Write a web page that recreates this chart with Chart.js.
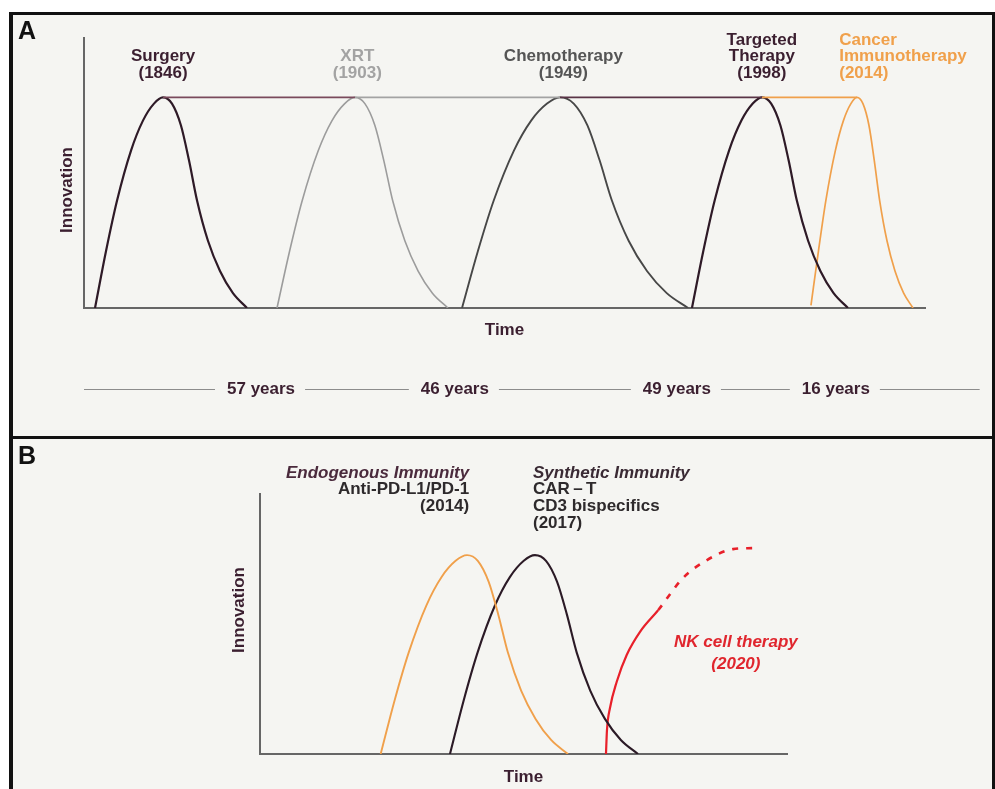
<!DOCTYPE html>
<html>
<head>
<meta charset="utf-8">
<script src="https://cdn.jsdelivr.net/npm/chart.js@4.4.0/dist/chart.umd.min.js"></script>
<style>
  html, body { margin: 0; padding: 0; background: #fff; }
  #page { position: relative; width: 995px; height: 789px; overflow: hidden; }
  #frame { position: absolute; left: 9px; top: 12px; width: 986px; height: 800px; box-sizing: border-box;
           border: 3px solid #111; border-left-width: 4px; background: #f5f5f2; }
  #divider { position: absolute; left: 9px; top: 436px; width: 986px; height: 3px; background: #111; }
  canvas { position: absolute; left: 0; }
  #chartA { top: 0; }
  #chartB { top: 436px; }
</style>
</head>
<body>
<div id="page">
  <div id="frame"></div>
  <div id="divider"></div>
  <canvas id="chartA" width="995" height="436"></canvas>
  <canvas id="chartB" width="995" height="353"></canvas>
</div>
<script>
// ---- Panel A: waves of cancer therapy (x = time, y = innovation, arbitrary units)
var surgeryX  = [1.31, 2.62, 3.93, 5.59, 7.01, 8.32, 9.39, 10.46, 11.53, 12.49, 13.44, 14.74, 16.17, 17.71, 19.38];
var surgeryY  = [0, 21.1, 39.8, 58.3, 69.4, 75.7, 78, 75.7, 67.6, 54.6, 39.8, 24.9, 13.7, 5.5, 0];
var xrtX      = [22.95, 24.45, 25.95, 27.86, 29.49, 31.0, 32.22, 33.40, 34.59, 35.65, 36.70, 38.15, 39.73, 41.43, 43.28];
var xrtY      = [0, 21.1, 39.8, 58.3, 69.4, 75.7, 78, 75.7, 67.6, 54.6, 39.8, 24.9, 13.7, 5.5, 0];
var chemoX    = [44.95, 46.84, 48.72, 51.12, 53.17, 55.06, 56.60, 58.23, 59.86, 61.32, 62.77, 64.76, 66.94, 69.29, 71.83];
var chemoY    = [0, 21.1, 39.8, 58.3, 69.4, 75.7, 78, 75.7, 67.6, 54.6, 39.8, 24.9, 13.7, 5.5, 0];
var targetedX = [72.29, 73.64, 74.99, 76.70, 78.17, 79.52, 80.62, 81.71, 82.81, 83.79, 84.76, 86.10, 87.56, 89.13, 90.84];
var targetedY = [0, 21.1, 39.8, 58.3, 69.4, 75.7, 78, 75.7, 67.6, 54.6, 39.8, 24.9, 13.7, 5.5, 0];
var immunoX   = [86.44, 87.33, 88.21, 89.34, 90.30, 91.19, 91.91, 92.62, 93.34, 93.97, 94.61, 95.48, 96.43, 97.46, 98.57];
var immunoY   = [1, 21.1, 39.8, 58.3, 69.4, 75.7, 78, 75.7, 67.6, 54.6, 39.8, 24.9, 13.7, 5.5, 0];
var peakX     = [9.39, 32.22, 56.60, 80.62, 91.91];
var peakY     = [78, 78, 78, 78, 78];

var therapyNames  = [['Surgery'], ['XRT'], ['Chemotherapy'], ['Targeted', 'Therapy'], ['Cancer', 'Immunotherapy']];
var therapyYears  = ['(1846)', '(1903)', '(1949)', '(1998)', '(2014)'];
var therapyLabelX = [9.4, 32.5, 57.0, 80.6, 89.8];
var therapyAlign  = ['center', 'center', 'center', 'center', 'left'];
var therapyColors = ['#3b1f30', '#a3a3a3', '#555555', '#3b1f30', '#f0a04b'];
var peakColors    = ['#7a4a5c', '#a3a3a3', '#5a3446', '#f0a04b'];

var gapText = ['57 years', '46 years', '49 years', '16 years'];
var gapX    = [21.05, 44.1, 70.5, 89.4];
var timelineRange = [0, 106.5];

// ---- Panel B: immunotherapy waves
var pd1X = [22.9, 25.55, 28.21, 31.58, 34.46, 37.12, 39.28, 41.33, 43.38, 45.22, 47.04, 49.55, 52.29, 55.24, 58.44];
var pd1Y = [0, 20.7, 39.0, 57.2, 68.1, 74.3, 76.5, 74.3, 66.3, 53.6, 39.0, 24.4, 13.5, 5.4, 0];
var carX = [36.05, 38.66, 41.28, 44.60, 47.44, 50.05, 52.18, 54.27, 56.36, 58.24, 60.10, 62.66, 65.45, 68.47, 71.73];
var carY = [0, 20.7, 39.0, 57.2, 68.1, 74.3, 76.5, 74.3, 66.3, 53.6, 39.0, 24.4, 13.5, 5.4, 0];
var nkX  = [65.65, 65.84, 66.41, 67.69, 69.58, 72.11, 75.58, 80.27, 84.82, 89.75, 93.55];
var nkY  = [0, 9.2, 17.7, 27.8, 38.1, 47.0, 55.4, 67.7, 74.6, 78.8, 79.2];
var nkDashFrom = 6;   // projected part of the NK curve is dashed

var FONT = '"Liberation Sans", Arial, sans-serif';
var PLUM = '#3b1f30';

function pts(xs, ys) {
  return xs.map(function(x, i) { return {x: x, y: ys[i]}; });
}

function curve(xs, ys, color, width) {
  return { data: pts(xs, ys), borderColor: color, borderWidth: width, fill: false };
}

function axisOptions(color) {
  return {
    type: 'linear', min: 0, max: 100,
    grid: { display: false, drawTicks: false },
    ticks: { display: false },
    border: { display: true, color: color, width: 2 }
  };
}

function baseOptions(pad) {
  return {
    responsive: false,
    animation: false,
    devicePixelRatio: 1,
    layout: { padding: pad },
    plugins: { legend: { display: false }, tooltip: { enabled: false } },
    elements: { point: { radius: 0 }, line: { cubicInterpolationMode: 'monotone' } },
    scales: { x: axisOptions('#666'), y: axisOptions('#666') }
  };
}

function drawTextA(chart) {
  var ctx = chart.ctx, xs = chart.scales.x, area = chart.chartArea;
  ctx.save();
  ctx.textBaseline = 'middle';

  ctx.font = 'bold 25px ' + FONT;
  ctx.fillStyle = '#111';
  ctx.textAlign = 'left';
  ctx.fillText('A', 18, 32);

  ctx.font = 'bold 17px ' + FONT;
  therapyNames.forEach(function(lines, i) {
    var all = lines.concat([therapyYears[i]]);
    var px = xs.getPixelForValue(therapyLabelX[i]);
    ctx.fillStyle = therapyColors[i];
    ctx.textAlign = therapyAlign[i];
    all.forEach(function(t, j) {
      ctx.fillText(t, px, area.top + 35 - (all.length - 1 - j) * 16.5);
    });
  });

  // axis titles
  ctx.fillStyle = PLUM;
  ctx.textAlign = 'center';
  ctx.fillText('Time', (area.left + area.right) / 2, area.bottom + 22);
  ctx.save();
  ctx.translate(area.left - 17, area.top + 152);
  ctx.rotate(-Math.PI / 2);
  ctx.fillText('Innovation', 0, 0);
  ctx.restore();

  // timeline with year gaps
  var ty = area.bottom + 81;
  var cursor = xs.getPixelForValue(timelineRange[0]);
  ctx.strokeStyle = '#8c8c8c';
  ctx.lineWidth = 1;
  gapX.forEach(function(v, i) {
    var cx = xs.getPixelForValue(v);
    var w = ctx.measureText(gapText[i]).width;
    ctx.beginPath();
    ctx.moveTo(cursor, ty + 0.5);
    ctx.lineTo(cx - w / 2 - 12, ty + 0.5);
    ctx.stroke();
    ctx.fillText(gapText[i], cx, ty);
    cursor = cx + w / 2 + 10;
  });
  ctx.beginPath();
  ctx.moveTo(cursor, ty + 0.5);
  ctx.lineTo(xs.getPixelForValue(timelineRange[1]), ty + 0.5);
  ctx.stroke();
  ctx.restore();
}

function drawTextB(chart) {
  var ctx = chart.ctx, xs = chart.scales.x, ys = chart.scales.y, area = chart.chartArea;
  ctx.save();
  ctx.textBaseline = 'middle';

  ctx.font = 'bold 25px ' + FONT;
  ctx.fillStyle = '#111';
  ctx.textAlign = 'left';
  ctx.fillText('B', 18, 21);

  // endogenous immunity (right aligned)
  var ex = xs.getPixelForValue(39.7);
  ctx.textAlign = 'right';
  ctx.font = 'italic bold 17px ' + FONT;
  ctx.fillStyle = '#4a2a3c';
  ctx.fillText('Endogenous Immunity', ex, 37);
  ctx.font = 'bold 17px ' + FONT;
  ctx.fillStyle = '#2e2a2c';
  ctx.fillText('Anti-PD-L1/PD-1', ex, 53.5);
  ctx.fillText('(2014)', ex, 70);

  // synthetic immunity (left aligned)
  var sx = xs.getPixelForValue(51.8);
  ctx.textAlign = 'left';
  ctx.font = 'italic bold 17px ' + FONT;
  ctx.fillStyle = '#3a2a34';
  ctx.fillText('Synthetic Immunity', sx, 37);
  ctx.font = 'bold 17px ' + FONT;
  ctx.fillStyle = '#2e2a2c';
  ctx.fillText('CAR\u2009\u2013\u2009T', sx, 53.5);
  ctx.fillText('CD3 bispecifics', sx, 70);
  ctx.fillText('(2017)', sx, 87);

  // NK cell therapy
  ctx.textAlign = 'center';
  ctx.font = 'italic bold 17px ' + FONT;
  ctx.fillStyle = '#e0262e';
  var nx = xs.getPixelForValue(90.3);
  ctx.fillText('NK cell therapy', nx, ys.getPixelForValue(43.1));
  ctx.fillText('(2020)', nx, ys.getPixelForValue(34.6));

  // axis titles
  ctx.font = 'bold 17px ' + FONT;
  ctx.fillStyle = PLUM;
  ctx.fillText('Time', (area.left + area.right) / 2, area.bottom + 23);
  ctx.save();
  ctx.translate(area.left - 21, area.top + 116);
  ctx.rotate(-Math.PI / 2);
  ctx.fillText('Innovation', 0, 0);
  ctx.restore();
  ctx.restore();
}

var peakLine = curve(peakX, peakY, peakColors[0], 1.6);
peakLine.cubicInterpolationMode = 'default';
peakLine.tension = 0;
peakLine.segment = { borderColor: function(c) { return peakColors[c.p0DataIndex]; } };

new Chart(document.getElementById('chartA'), {
  type: 'line',
  data: {
    datasets: [
      peakLine,
      curve(surgeryX, surgeryY, '#2e1a27', 2.2),
      curve(xrtX, xrtY, '#9c9c9c', 1.6),
      curve(chemoX, chemoY, '#474747', 1.9),
      curve(targetedX, targetedY, '#2e1a27', 2.2),
      curve(immunoX, immunoY, '#f0a04b', 1.7)
    ]
  },
  options: baseOptions({ left: 84, right: 70, top: 38, bottom: 128 }),
  plugins: [{ id: 'textA', afterDraw: drawTextA }]
});

var nkCurve = curve(nkX, nkY, '#e8202a', 2.2);
nkCurve.segment = {
  borderDash: function(c) { return c.p0DataIndex >= nkDashFrom ? [6, 8] : undefined; },
  borderWidth: function(c) { return c.p0DataIndex >= nkDashFrom ? 2.6 : undefined; }
};

new Chart(document.getElementById('chartB'), {
  type: 'line',
  data: {
    datasets: [
      curve(pd1X, pd1Y, '#f0a04b', 1.9),
      curve(carX, carY, '#2b1a26', 2.1),
      nkCurve
    ]
  },
  options: baseOptions({ left: 260, right: 208, top: 58, bottom: 35 }),
  plugins: [{ id: 'textB', afterDraw: drawTextB }]
});
</script>
</body>
</html>
